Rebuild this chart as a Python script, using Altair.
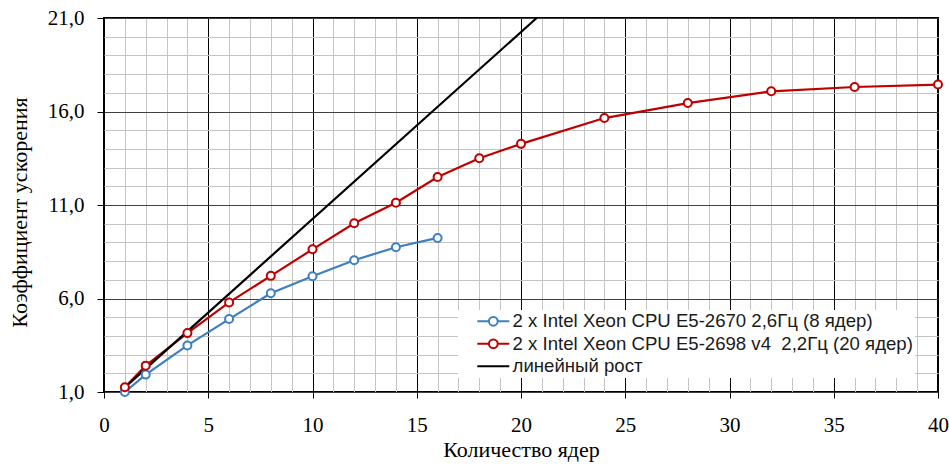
import altair as alt
import pandas as pd

# ---- data ----
cores_a = [1, 2, 4, 6, 8, 10, 12, 14, 16]
speedup_a = [1.0, 1.93, 3.49, 4.90, 6.28, 7.19, 8.05, 8.74, 9.24]

cores_b = [1, 2, 4, 6, 8, 10, 12, 14, 16, 18, 20, 24, 28, 32, 36, 40]
speedup_b = [1.25, 2.41, 4.15, 5.79, 7.21, 8.63, 10.02, 11.12, 12.50, 13.50,
             14.27, 15.65, 16.45, 17.08, 17.31, 17.44]

linear_x = [1, 20.75]
linear_y = [1.25, 21.0]

name_a = "2 x Intel Xeon CPU E5-2670 2,6Гц (8 ядер)"
name_b = "2 x Intel Xeon CPU E5-2698 v4\u00a0 2,2Гц (20 ядер)"
name_lin = "линейный рост"
names = [name_a, name_b, name_lin]
colors = ["#3d7fc1", "#c00000", "#000000"]
legend_paths = [
    "M-2,0H-0.55M0.55,0H2M0.55,0A0.55,0.55,0,1,1,-0.55,0A0.55,0.55,0,1,1,0.55,0",
    "M-2,0H-0.55M0.55,0H2M0.55,0A0.55,0.55,0,1,1,-0.55,0A0.55,0.55,0,1,1,0.55,0",
    "M-2,0H2",
]

x_ticks = [0, 5, 10, 15, 20, 25, 30, 35, 40]
x_minor = [1, 2, 3, 4, 6, 7, 8, 9, 11, 12, 13, 14, 16, 17, 18, 19, 21, 22, 23, 24,
           26, 27, 28, 29, 31, 32, 33, 34, 36, 37, 38, 39]
y_ticks = [1, 6, 11, 16, 21]
y_minor = [2, 3, 4, 5, 7, 8, 9, 10, 12, 13, 14, 15, 17, 18, 19, 20]

df_a = pd.DataFrame({"x": cores_a, "y": speedup_a, "s": name_a})
df_b = pd.DataFrame({"x": cores_b, "y": speedup_b, "s": name_b})
df_lin = pd.DataFrame({"x": linear_x, "y": linear_y, "s": name_lin})
df_lines = pd.concat([df_a, df_b, df_lin], ignore_index=True)
df_pts = pd.concat([df_a, df_b], ignore_index=True)
df_legend = pd.DataFrame({"s": names})

xs = alt.Scale(domain=[0, 40], nice=False, zero=False)
ys = alt.Scale(domain=[1, 21], nice=False, zero=False)
# colour scale for the drawn series (domain order differs from the legend's
# stroke/shape scales so that Vega-Lite does not merge the hidden legend)
cs = alt.Scale(domain=names[::-1], range=colors[::-1])

SERIF = "Liberation Serif"

lines = alt.Chart(df_lines).mark_line(strokeWidth=2.2).encode(
    x=alt.X("x:Q", scale=xs, axis=alt.Axis(
        orient="top", values=x_minor, grid=True, gridColor="#c4c4c4", gridWidth=1,
        labels=False, ticks=False, domain=False, title=None)),
    y=alt.Y("y:Q", scale=ys, axis=alt.Axis(
        orient="right", values=y_minor, grid=True, gridColor="#c4c4c4", gridWidth=1,
        labels=False, ticks=False, domain=False, title=None)),
    color=alt.Color("s:N", scale=cs, legend=None),
    detail="s:N",
)

points = alt.Chart(df_pts).mark_point(size=64, strokeWidth=2, filled=False, opacity=1).encode(
    x=alt.X("x:Q", scale=xs, axis=alt.Axis(
        orient="bottom", values=x_ticks, grid=True, gridColor="#000000", gridWidth=1,
        domain=False, ticks=True, tickColor="#000000", tickSize=6, tickWidth=1,
        labelFont=SERIF, labelFontSize=21, labelColor="#000000", labelPadding=16,
        labelFlush=False,
        title="Количество ядер", titleFont=SERIF, titleFontSize=22,
        titleFontWeight="normal", titleColor="#000000", titleY=64,
        titleBaseline="alphabetic")),
    y=alt.Y("y:Q", scale=ys, axis=alt.Axis(
        orient="left", values=y_ticks, grid=True, gridColor="#404040", gridWidth=1,
        domain=False, ticks=True, tickColor="#000000", tickSize=7, tickWidth=1,
        labelFont=SERIF, labelFontSize=21, labelColor="#000000", labelPadding=13,
        labelFlush=False,
        labelExpr="replace(format(datum.value, '.1f'), '.', ',')",
        title="Коэффициент ускорения", titleFont=SERIF, titleFontSize=22,
        titleFontWeight="normal", titleColor="#000000", titleX=-85, titleY=194,
        titleAngle=270, titleBaseline="middle")),
    color=alt.Color("s:N", scale=cs, legend=None),
    fill=alt.value("white"),
)

legend_cfg = dict(
    title=None, orient="none", legendX=354, legendY=292,
    fillColor="white", padding=2, symbolSize=256,
    symbolStrokeWidth=2, symbolOffset=24, symbolOpacity=1,
    symbolFillColor="white", labelOffset=10, rowPadding=3.5,
    labelFont="Liberation Sans", labelFontSize=18.6,
    labelColor="#1a1a1a", labelLimit=700,
)

legend_layer = alt.Chart(df_legend).mark_point(
    filled=False, opacity=0
).encode(
    stroke=alt.Stroke("s:N", scale=alt.Scale(domain=names, range=colors),
                      legend=alt.Legend(**legend_cfg)),
    shape=alt.Shape("s:N", scale=alt.Scale(domain=names, range=legend_paths),
                    legend=alt.Legend(**legend_cfg)),
)

chart = alt.layer(lines, points, legend_layer).resolve_axis(
    x="independent", y="independent"
).properties(
    width=834, height=374,
    autosize=alt.AutoSizeParams(type="none"),
    padding={"left": 104, "top": 18, "right": 11, "bottom": 78},
    background="white",
).configure_view(stroke="#000000", strokeWidth=2)

chart.save("out.html", embed_options={"renderer": "svg", "actions": False})
